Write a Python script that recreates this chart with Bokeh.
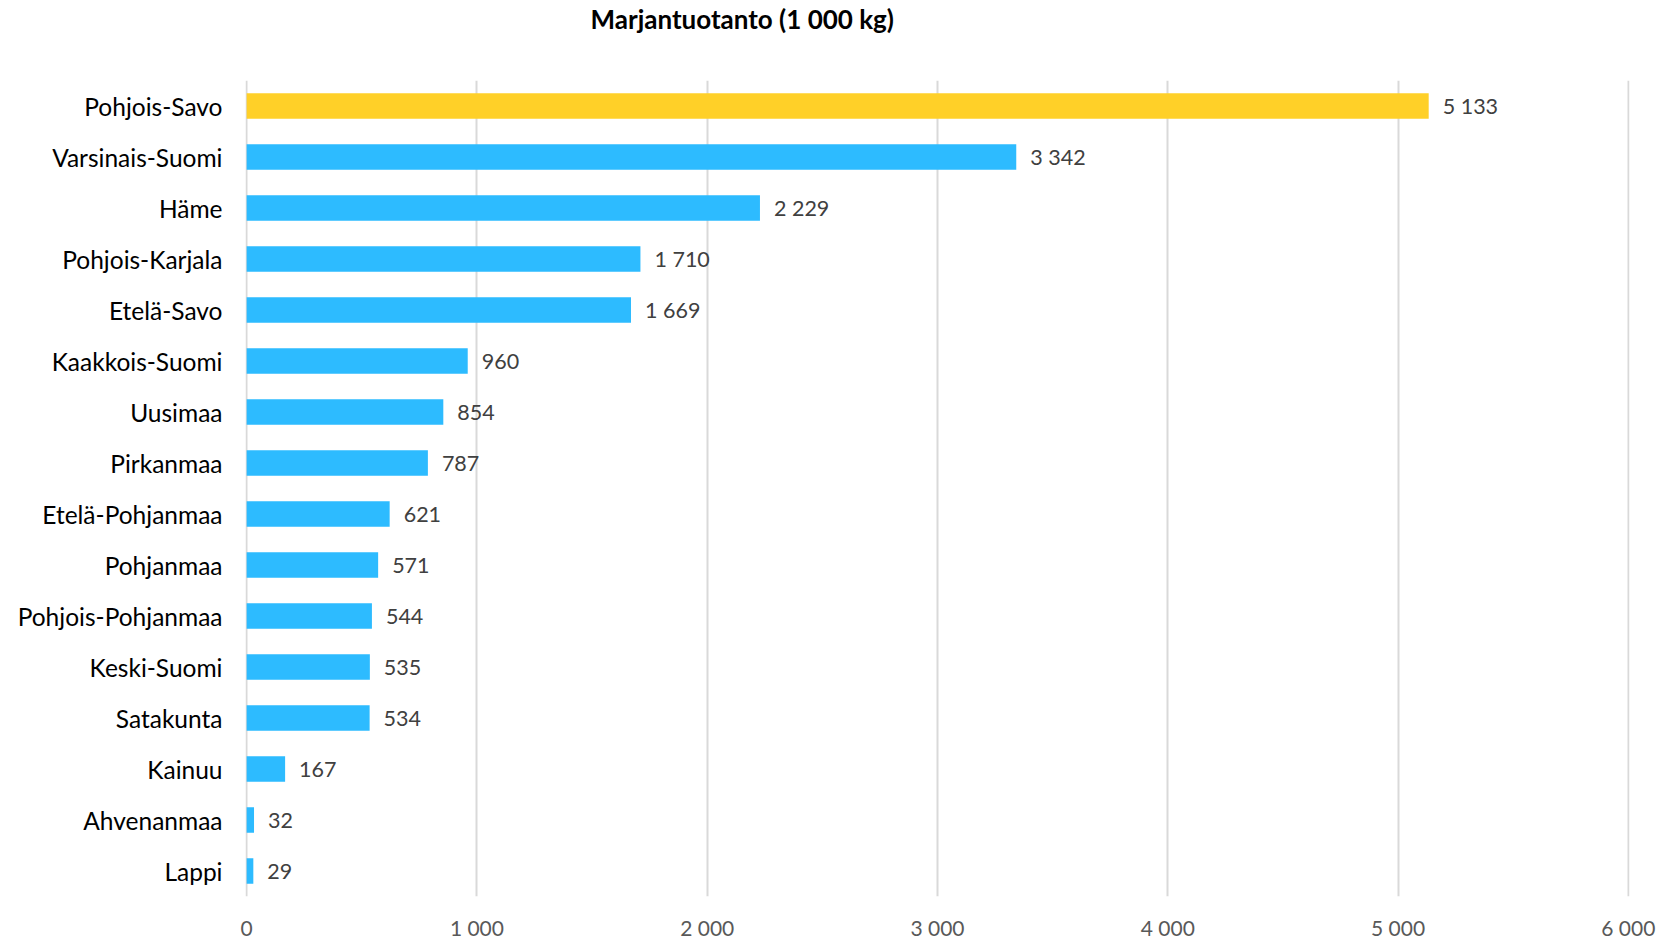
from bokeh.plotting import figure
from bokeh.models import ColumnDataSource, FactorRange, Range1d, FixedTicker, CustomJSTickFormatter, Title
from bokeh.core.properties import value
from bokeh.embed import file_html
from bokeh.resources import INLINE

# ---- data ----
regions = ["Pohjois-Savo", "Varsinais-Suomi", "Häme", "Pohjois-Karjala", "Etelä-Savo",
           "Kaakkois-Suomi", "Uusimaa", "Pirkanmaa", "Etelä-Pohjanmaa", "Pohjanmaa",
           "Pohjois-Pohjanmaa", "Keski-Suomi", "Satakunta", "Kainuu", "Ahvenanmaa", "Lappi"]
production = [5133, 3342, 2229, 1710, 1669, 960, 854, 787, 621, 571, 544, 535, 534, 167, 32, 29]
x_ticks = [0, 1000, 2000, 3000, 4000, 5000, 6000]
highlighted = "Pohjois-Savo"
title_text = "Marjantuotanto (1 000 kg)"

BLUE = "#2DBBFF"
YELLOW = "#FFD028"
FONT = "Lato"


def fmt(v):
    return f"{v:,}".replace(",", " ")


src = ColumnDataSource(dict(
    region=regions,
    value=production,
    label=[fmt(v) for v in production],
    color=[YELLOW if r == highlighted else BLUE for r in regions],
))

p = figure(
    width=1665, height=942,
    y_range=FactorRange(factors=list(reversed(regions)), range_padding=0),
    x_range=Range1d(-5, 6005),
    output_backend="svg", toolbar_location=None,
    min_border_left=245, min_border_right=36, min_border_top=80, min_border_bottom=44,
)
p.outline_line_color = None
p.background_fill_color = "white"
p.border_fill_color = "white"

p.hbar(y="region", right="value", left=0, height=0.5, fill_color="color",
       line_color=None, source=src)

p.text(x="value", y="region", text="label", source=src, x_offset=14,
       text_baseline="middle", text_align="left", text_color="#404040",
       text_font=value(FONT), text_font_size="21.5px")

# real title
p.title.text = title_text
p.title.align = "left"
p.title.offset = 345
p.title.standoff = 0
p.title.vertical_align = "top"
p.title.text_font = FONT
p.title.text_font_style = "bold"
p.title.text_font_size = "26px"
p.title.text_color = "#000000"
# blank spacer between title and plot area
p.add_layout(Title(text=" ", standoff=0, text_font=FONT, text_font_size="35px"), "above")

# x axis
xa = p.xaxis[0]
xa.ticker = FixedTicker(ticks=x_ticks)
xa.formatter = CustomJSTickFormatter(code="return tick.toFixed(0).replace(/\\B(?=(\\d{3})+(?!\\d))/g, ' ');")
xa.axis_line_color = None
xa.major_tick_line_color = None
xa.minor_tick_line_color = None
xa.major_tick_out = 0
xa.major_label_standoff = 18
xa.major_label_text_line_height = 0.9
xa.major_label_text_font = FONT
xa.major_label_text_font_size = "21px"
xa.major_label_text_color = "#595959"

# y axis
ya = p.yaxis[0]
ya.axis_line_color = None
ya.major_tick_line_color = None
ya.minor_tick_line_color = None
ya.major_tick_out = 0
ya.major_label_standoff = 23
ya.major_label_text_font = FONT
ya.major_label_text_font_size = "24.5px"
ya.major_label_text_color = "#000000"

p.xgrid.grid_line_color = "#D9D9D9"
p.xgrid.grid_line_width = 2
p.ygrid.grid_line_color = None

open("out.html", "w").write(file_html(p, INLINE))
